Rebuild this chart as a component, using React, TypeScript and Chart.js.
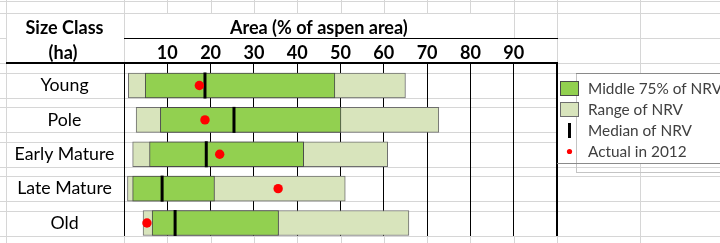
import React, { useEffect, useRef } from 'react';
import { Chart, registerables } from 'chart.js';

Chart.register(...registerables);

// ---- data ----
const categories = ['Young', 'Pole', 'Early Mature', 'Late Mature', 'Old'];
const rangeMin = [1.0, 2.8, 2.0, 0.8, 4.4];
const rangeMax = [65.0, 72.7, 60.9, 51.1, 65.8];
const middleMin = [4.9, 8.4, 5.9, 2.0, 6.5];
const middleMax = [48.7, 50.1, 41.5, 20.9, 35.7];
const medianNRV = [18.7, 25.4, 19.0, 8.8, 11.8];
const actual2012 = [17.4, 18.7, 22.1, 35.6, 5.3];
const xGridValues = [0, 10, 20, 30, 40, 50, 60, 70, 80, 90, 100];
const xTickLabels = [10, 20, 30, 40, 50, 60, 70, 80, 90];
const xTitle = 'Area (% of aspen area)';
const yHeader = ['Size Class', '(ha)'];
const legendLabels = ['Middle 75% of NRV', 'Range of NRV', 'Median of NRV', 'Actual in 2012'];

const FONT = 'Lato, "Open Sans", sans-serif';

function fitSize(text: string, weight: string, target: number) {
  const c = document.createElement('canvas').getContext('2d')!;
  c.font = `${weight} 100px ${FONT}`;
  return (100 * target) / c.measureText(text).width;
}

export default function App() {
  const ref = useRef<HTMLCanvasElement>(null);

  useEffect(() => {
    document.body.style.margin = '0';
    const canvas = ref.current!;
    const LEFT_W = 124;
    const labelSize = fitSize('Early Mature', 'normal', 100);
    const boldSize = fitSize(xTitle, 'bold', 178);
    const legendSize = fitSize('Median of NRV', 'normal', 104);
    const m = document.createElement('canvas').getContext('2d')!;
    m.font = `normal ${labelSize}px ${FONT}`;
    const widest = Math.max(...categories.map((c) => m.measureText(c).width));
    const yTickPad = LEFT_W - 64.5 - widest / 2;

    const sheetPlugin = {
      id: 'sheet',
      beforeDraw(chart: any) {
        const { ctx, scales } = chart;
        const x = scales.x;
        const y = scales.y;
        const W = chart.width;
        const Hh = chart.height;
        const top = chart.chartArea.top;
        const bottom = chart.chartArea.bottom;
        const X100 = x.getPixelForValue(100);
        ctx.save();
        ctx.fillStyle = '#ffffff';
        ctx.fillRect(0, 0, W, Hh);
        ctx.strokeStyle = '#d6d6d6';
        ctx.lineWidth = 1;
        const H = (yy: number, x0: number, x1: number) => {
          ctx.beginPath();
          ctx.moveTo(x0, Math.round(yy) + 0.5);
          ctx.lineTo(x1, Math.round(yy) + 0.5);
          ctx.stroke();
        };
        const V = (xx: number, y0: number, y1: number) => {
          ctx.beginPath();
          ctx.moveTo(Math.round(xx) + 0.5, y0);
          ctx.lineTo(Math.round(xx) + 0.5, y1);
          ctx.stroke();
        };
        H(1, 0, W);
        H(13, 0, W);
        H(38, 0, 6);
        H(38, X100, W);
        H(top, 0, W);
        categories.forEach((_, i) => {
          const c = y.getPixelForValue(i);
          H(c - 12.5, 0, W);
          H(c + 12.5, 0, W);
        });
        V(6, 0, Hh);
        V(x.getPixelForValue(0), 0, Hh);
        xTickLabels.forEach((v) => {
          const px = x.getPixelForValue(v);
          V(px, 0, v === 90 ? 38 : 13);
          V(px, bottom, Hh);
        });
        V(X100, 0, Hh);
        V(640, 0, Hh);
        ctx.restore();
      },
    };

    const overlayPlugin = {
      id: 'overlay',
      afterDraw(chart: any) {
        const { ctx, scales } = chart;
        const x = scales.x;
        const X0 = x.getPixelForValue(0);
        const X100 = x.getPixelForValue(100);
        const top = chart.chartArea.top;
        ctx.save();
        ctx.strokeStyle = '#000';
        ctx.lineWidth = 1;
        ctx.beginPath();
        ctx.moveTo(X0, 38.5);
        ctx.lineTo(X100 + 1, 38.5);
        ctx.stroke();
        ctx.lineWidth = 2;
        ctx.beginPath();
        ctx.moveTo(6, top);
        ctx.lineTo(X100 + 1, top);
        ctx.stroke();
        ctx.fillStyle = '#000';
        ctx.textAlign = 'center';
        ctx.textBaseline = 'alphabetic';
        ctx.font = `bold ${boldSize}px ${FONT}`;
        ctx.fillText(yHeader[0], 64.5, 33.5);
        ctx.fillText(yHeader[1], 63, 58.5);
        ctx.fillText(xTitle, x.getPixelForValue(45), 33.5);

        const LX = X100;
        ctx.fillStyle = '#ffffff';
        ctx.fillRect(LX + 1, 74, chart.width - LX, 89);
        ctx.lineWidth = 1;
        ctx.strokeStyle = '#c4c4c4';
        ctx.beginPath();
        ctx.moveTo(576.5, 73);
        ctx.lineTo(576.5, 173);
        ctx.moveTo(576, 172.5);
        ctx.lineTo(chart.width, 172.5);
        ctx.stroke();
        ctx.strokeStyle = '#8a8a8a';
        ctx.beginPath();
        ctx.moveTo(576, 73.5);
        ctx.lineTo(chart.width, 73.5);
        ctx.moveTo(LX, 163.5);
        ctx.lineTo(chart.width, 163.5);
        ctx.stroke();

        const ds = chart.data.datasets;
        const keyX = 560;
        const rowY = [88, 109, 130, 151];
        [0, 1].forEach((k) => {
          ctx.fillStyle = ds[k].backgroundColor;
          ctx.fillRect(keyX, rowY[k] - 7, 19, 15);
          ctx.strokeStyle = ds[k].borderColor;
          ctx.lineWidth = 1;
          ctx.strokeRect(keyX + 0.5, rowY[k] - 6.5, 18, 14);
        });
        ctx.fillStyle = ds[2].pointBorderColor;
        ctx.fillRect(568, rowY[2] - 7, 3, 15);
        ctx.fillStyle = ds[3].pointBackgroundColor;
        ctx.beginPath();
        ctx.arc(569.5, rowY[3] + 0.5, 2.6, 0, Math.PI * 2);
        ctx.fill();

        ctx.fillStyle = '#404040';
        ctx.textAlign = 'left';
        ctx.textBaseline = 'alphabetic';
        ctx.font = `normal ${legendSize}px ${FONT}`;
        legendLabels.forEach((t, k) => {
          ctx.fillText(t, 588, rowY[k] + 6);
        });
        ctx.restore();
      },
    };

    const chart = new Chart(canvas, {
      type: 'bar',
      data: {
        datasets: [
          {
            type: 'bar',
            label: legendLabels[0],
            indexAxis: 'y',
            data: categories.map((_, i) => ({ y: i, x: [middleMin[i], middleMax[i]] })),
            backgroundColor: '#92d050',
            borderColor: '#4a4a4a',
            borderWidth: 1,
            borderSkipped: false,
            barThickness: 25,
            grouped: false,
            order: 2,
          },
          {
            type: 'bar',
            label: legendLabels[1],
            indexAxis: 'y',
            data: categories.map((_, i) => ({ y: i, x: [rangeMin[i], rangeMax[i]] })),
            backgroundColor: '#d8e4bc',
            borderColor: '#6e6e6e',
            borderWidth: 1,
            borderSkipped: false,
            barThickness: 25,
            grouped: false,
            order: 3,
          },
          {
            type: 'scatter',
            label: legendLabels[2],
            data: categories.map((_, i) => ({ x: medianNRV[i], y: i })),
            pointStyle: 'line',
            pointRotation: 90,
            pointRadius: 13,
            pointBorderWidth: 3,
            pointBorderColor: '#000000',
            pointBackgroundColor: '#000000',
            order: 1,
          },
          {
            type: 'scatter',
            label: legendLabels[3],
            data: categories.map((_, i) => ({ x: actual2012[i], y: i })),
            pointStyle: 'circle',
            pointRadius: 4.7,
            pointBorderWidth: 0,
            pointBorderColor: '#ff0000',
            pointBackgroundColor: '#ff0000',
            order: 0,
          },
        ] as any,
      },
      options: {
        responsive: false,
        animation: false,
        devicePixelRatio: 1,
        events: [],
        layout: { autoPadding: false, padding: { left: 0, top: 0, right: 163, bottom: 7 } },
        plugins: {
          legend: { display: false },
          tooltip: { enabled: false },
        },
        scales: {
          x: {
            type: 'linear',
            position: 'top',
            min: 0,
            max: 100,
            bounds: 'data',
            offset: false,
            beginAtZero: false,
            afterBuildTicks: (s: any) => {
              s.ticks = xGridValues.map((v) => ({ value: v }));
            },
            ticks: {
              callback: (v: any) => (xTickLabels.includes(v) ? String(v) : ''),
              font: { family: FONT, size: boldSize, weight: 'bold' },
              color: '#000',
              padding: -1.5,
              autoSkip: false,
              maxRotation: 0,
              minRotation: 0,
            },
            grid: {
              offset: false,
              color: '#000',
              lineWidth: (c: any) => (c.tick && c.tick.value === 100 ? 2 : 1),
              drawTicks: false,
            },
            border: { display: false },
            afterFit: (s: any) => {
              s.height = 63;
              s.paddingLeft = 0;
              s.paddingRight = 0;
              s.paddingTop = 0;
              s.paddingBottom = 0;
            },
          },
          y: {
            type: 'linear',
            reverse: true,
            min: -0.6545,
            max: 4.378,
            bounds: 'data',
            offset: false,
            beginAtZero: false,
            afterBuildTicks: (s: any) => {
              s.ticks = categories.map((_, i) => ({ value: i }));
            },
            ticks: {
              callback: (v: any) => categories[v] ?? '',
              font: { family: FONT, size: labelSize, weight: 'normal' },
              color: '#000',
              crossAlign: 'center',
              padding: yTickPad,
              autoSkip: false,
            },
            grid: { display: false, offset: false, drawTicks: false },
            border: { display: false },
            afterFit: (s: any) => {
              s.width = LEFT_W;
              s.paddingLeft = 0;
              s.paddingRight = 0;
              s.paddingTop = 0;
              s.paddingBottom = 0;
            },
          },
        },
      } as any,
      plugins: [sheetPlugin, overlayPlugin],
    });

    return () => chart.destroy();
  }, []);

  return (
    <canvas
      ref={ref}
      width={720}
      height={243}
      style={{ display: 'block', width: 720, height: 243 }}
    />
  );
}
